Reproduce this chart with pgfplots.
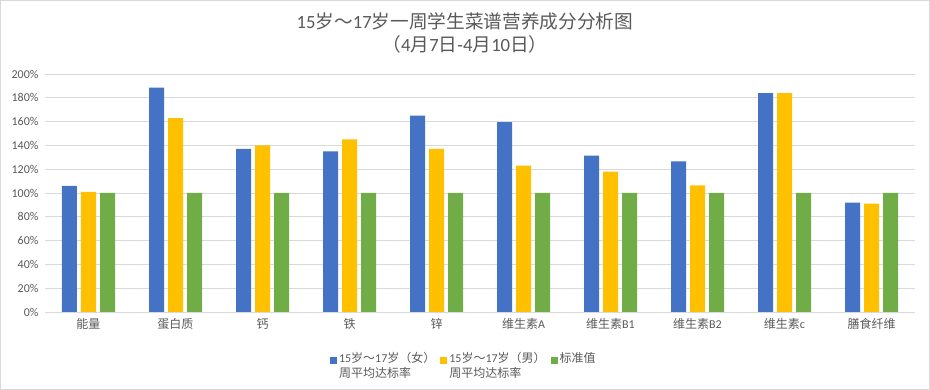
\documentclass[border=0pt]{standalone}
\usepackage{pgfplots}
\pgfplotsset{compat=1.18}
\usepackage{fontspec}
\setmainfont{Carlito}
\newfontfamily\cjk{Noto Sans CJK SC}
\definecolor{cblue}{HTML}{4472C4}
\definecolor{corange}{HTML}{FFC000}
\definecolor{cgreen}{HTML}{70AD47}
\definecolor{gridgray}{HTML}{D9D9D9}
\definecolor{txt}{HTML}{595959}
\begin{document}
\begin{tikzpicture}[x=1pt,y=1pt]
\useasboundingbox (0,0) rectangle (930,390);
\draw[color=gridgray, line width=1pt] (0.5,0.5) rectangle (929.5,389.5);
\node[text=txt, font=\fontsize{18.67}{22}\selectfont] at (465,369) {15{\cjk 岁～}17{\cjk 岁一周学生菜谱营养成分分析图}};
\node[text=txt, font=\fontsize{18.67}{22}\selectfont] at (465,346) {{\cjk （}4{\cjk 月}7{\cjk 日}-4{\cjk 月}10{\cjk 日）}};
\begin{axis}[
  at={(45pt,78pt)}, anchor=south west,
  scale only axis, width=870pt, height=238pt,
  ymin=0, ymax=200, ytick={0,20,...,200},
  xmin=-0.5, xmax=9.5,
  xtick={0,...,9},
  xticklabels={{\cjk 能量},{\cjk 蛋白质},{\cjk 钙},{\cjk 铁},{\cjk 锌},{\cjk 维生素}A,{\cjk 维生素}B1,{\cjk 维生素}B2,{\cjk 维生素}c,{\cjk 膳食纤维}},
  yticklabel={\pgfmathprintnumber{\tick}\%},
  /pgf/number format/assume math mode=true,
  ymajorgrids, grid style={gridgray, line width=0.8pt},
  axis line style={draw=none},
  major tick length=0pt,
  ticklabel style={text=txt, font=\fontsize{12}{14}\selectfont},
  xticklabel style={yshift=-3pt},
  yticklabel style={xshift=-3pt},
  ybar=4pt, bar width=15pt,
  legend columns=3,
  legend style={at={(0.324,-0.151)}, anchor=north west, draw=none, fill=none,
    font=\fontsize{12}{15}\selectfont, text=txt,
    cells={anchor=base west},
    /tikz/every even column/.append style={column sep=3pt}},
  lgsq/.style={legend image code/.code={\fill[##1] (0pt,-1pt) rectangle (7pt,6pt);}},
]
\addplot[fill=cblue, draw=none, lgsq] coordinates {(0,106) (1,188.5) (2,137) (3,135) (4,165) (5,159.5) (6,131.5) (7,126.5) (8,184) (9,92)};
\addplot[fill=corange, draw=none, lgsq] coordinates {(0,101) (1,163) (2,140) (3,145) (4,137) (5,123) (6,118) (7,106.5) (8,184) (9,91)};
\addplot[fill=cgreen, draw=none, lgsq] coordinates {(0,100) (1,100) (2,100) (3,100) (4,100) (5,100) (6,100) (7,100) (8,100) (9,100)};
\addlegendentry{\begin{tabular}[t]{@{}l@{}}15{\cjk 岁～}17{\cjk 岁（女）}\\{\cjk 周平均达标率}\end{tabular}}
\addlegendentry{\begin{tabular}[t]{@{}l@{}}15{\cjk 岁～}17{\cjk 岁（男）}\\{\cjk 周平均达标率}\end{tabular}}
\addlegendentry{{\cjk 标准值}}
\end{axis}
\end{tikzpicture}
\end{document}
